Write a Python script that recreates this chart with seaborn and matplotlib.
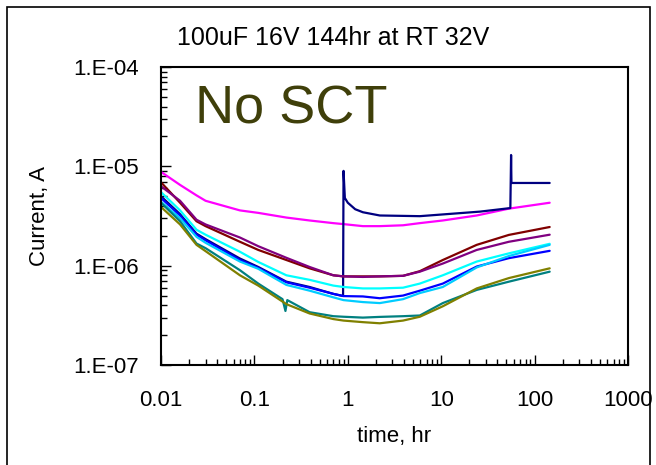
import numpy as np
import pandas as pd
import matplotlib
matplotlib.use('Agg')
import matplotlib.pyplot as plt
from matplotlib.patches import Rectangle
from matplotlib.ticker import LogLocator, NullFormatter
import seaborn as sns

# common time grid (hr) for most of the parts
t = [0.01, 0.016, 0.024, 0.03, 0.07, 0.11, 0.22, 0.39, 0.7, 0.9,
     1.45, 2.2, 3.9, 5.9, 10.4, 24, 53, 145]

magenta = [8.8e-6, 6.5e-6, 5.1e-6, 4.5e-6, 3.6e-6, 3.4e-6, 3.05e-6, 2.85e-6, 2.68e-6, 2.62e-6,
           2.5e-6, 2.5e-6, 2.55e-6, 2.68e-6, 2.85e-6, 3.2e-6, 3.75e-6, 4.3e-6]
maroon = [6.9e-6, 4.3e-6, 2.8e-6, 2.5e-6, 1.74e-6, 1.44e-6, 1.14e-6, 9.4e-7, 8.0e-7, 7.8e-7,
          7.8e-7, 7.8e-7, 7.9e-7, 8.8e-7, 1.14e-6, 1.62e-6, 2.04e-6, 2.45e-6]
purple = [6.3e-6, 4.5e-6, 2.9e-6, 2.6e-6, 1.92e-6, 1.57e-6, 1.2e-6, 9.7e-7, 8.0e-7, 7.8e-7,
          7.7e-7, 7.8e-7, 7.9e-7, 8.7e-7, 1.05e-6, 1.44e-6, 1.74e-6, 2.05e-6]
cyan = [5.5e-6, 3.6e-6, 2.3e-6, 2.05e-6, 1.38e-6, 1.09e-6, 8.0e-7, 7.2e-7, 6.3e-7, 6.1e-7,
        5.9e-7, 5.9e-7, 6.0e-7, 6.6e-7, 8.0e-7, 1.1e-6, 1.33e-6, 1.66e-6]
blue = [4.8e-6, 3.2e-6, 2.05e-6, 1.8e-6, 1.14e-6, 9.5e-7, 6.8e-7, 6.0e-7, 5.2e-7, 4.94e-7,
        4.9e-7, 4.7e-7, 5.0e-7, 5.6e-7, 6.6e-7, 9.8e-7, 1.19e-6, 1.41e-6]
skyblue = [4.4e-6, 3.0e-6, 1.95e-6, 1.7e-6, 1.1e-6, 9.3e-7, 6.4e-7, 5.6e-7, 4.8e-7, 4.5e-7,
           4.3e-7, 4.2e-7, 4.6e-7, 5.3e-7, 6.1e-7, 9.6e-7, 1.25e-6, 1.62e-6]
olive = [3.9e-6, 2.6e-6, 1.62e-6, 1.4e-6, 8.0e-7, 6.3e-7, 4.1e-7, 3.3e-7, 2.9e-7, 2.8e-7,
         2.7e-7, 2.63e-7, 2.8e-7, 3.06e-7, 3.9e-7, 5.9e-7, 7.5e-7, 9.4e-7]

# parts with their own time stamps (spikes / glitches)
t_navy = [0.01, 0.016, 0.024, 0.03, 0.07, 0.11, 0.22, 0.39, 0.7, 0.89, 0.9, 0.93,
          1.0, 1.2, 1.45, 2.2, 5.9, 26, 55, 56, 56.5, 145]
navy = [5.0e-6, 3.3e-6, 2.1e-6, 1.85e-6, 1.18e-6, 9.7e-7, 6.9e-7, 6.1e-7, 5.2e-7, 4.95e-7, 9.0e-6, 4.8e-6,
        4.3e-6, 3.7e-6, 3.45e-6, 3.2e-6, 3.15e-6, 3.5e-6, 3.8e-6, 1.3e-5, 6.8e-6, 6.8e-6]
t_teal = [0.01, 0.016, 0.024, 0.03, 0.07, 0.11, 0.2, 0.215, 0.225, 0.39, 0.7, 0.9,
          1.45, 2.2, 3.9, 5.9, 10.4, 24, 53, 145]
teal = [4.3e-6, 2.8e-6, 1.67e-6, 1.5e-6, 9.0e-7, 6.6e-7, 4.6e-7, 3.5e-7, 4.5e-7, 3.4e-7, 3.1e-7, 3.06e-7,
        3.0e-7, 3.05e-7, 3.1e-7, 3.15e-7, 4.2e-7, 5.7e-7, 6.9e-7, 8.7e-7]

series = {
    'magenta': (t, magenta), 'navy': (t_navy, navy), 'maroon': (t, maroon),
    'purple': (t, purple), 'cyan': (t, cyan), 'blue': (t, blue),
    'skyblue': (t, skyblue), 'teal': (t_teal, teal), 'olive': (t, olive),
}
colors = {'magenta': '#FF00FF', 'navy': '#000080', 'maroon': '#800000',
          'purple': '#800080', 'cyan': '#00FFFF', 'blue': '#0000FF',
          'skyblue': '#00CCFF', 'teal': '#008080', 'olive': '#808000'}

rows = []
for name, (tt, vals) in series.items():
    for x, y in zip(tt, vals):
        rows.append((name, x, y))
df = pd.DataFrame(rows, columns=['part', 'time', 'current'])

sns.set_style('ticks')
plt.rcParams['font.family'] = ['Liberation Sans', 'DejaVu Sans']

fig = plt.figure(figsize=(6.56, 4.65), dpi=100)
ax = fig.add_axes([161/656, 1-365/465, (628-161)/656, (365-67)/465])

sns.lineplot(data=df, x='time', y='current', hue='part', palette=colors,
             estimator=None, sort=False, legend=False, linewidth=1.6, ax=ax)

ax.set_xscale('log')
ax.set_yscale('log')
ax.set_xlim(0.01, 1000)
ax.set_ylim(1e-7, 1e-4)

ax.set_xticks([0.01, 0.1, 1, 10, 100, 1000])
ax.set_xticklabels(['0.01', '0.1', '1', '10', '100', '1000'])
ax.set_yticks([1e-7, 1e-6, 1e-5, 1e-4])
ax.set_yticklabels(['1.E-07', '1.E-06', '1.E-05', '1.E-04'])
ax.xaxis.set_minor_locator(LogLocator(base=10, subs=np.arange(2, 10)))
ax.yaxis.set_minor_locator(LogLocator(base=10, subs=np.arange(2, 10)))
ax.xaxis.set_minor_formatter(NullFormatter())
ax.yaxis.set_minor_formatter(NullFormatter())
ax.tick_params(which='both', direction='in', bottom=True, left=True,
               top=False, right=False, color='black')
ax.tick_params(which='major', length=7, width=1, labelsize=16, labelcolor='black')
ax.tick_params(which='minor', length=4, width=1)
ax.tick_params(axis='x', which='major', pad=18)
ax.tick_params(axis='y', which='major', pad=16)
for s in ax.spines.values():
    s.set_color('black')
    s.set_linewidth(1.5)

ax.set_xlabel('time, hr', fontsize=16, labelpad=11, color='black')
ax.set_ylabel('Current, A', fontsize=16, color='black')
ax.yaxis.set_label_coords(-0.237, 0.5)

fig.text(0.508, 1-38/465, '100uF 16V 144hr at RT 32V', fontsize=18,
         ha='center', va='center', color='black')
fig.text(195/656, (465-123)/465, 'No SCT', fontsize=39, color='#3F3F0A',
         ha='left', va='baseline')

fig.patches.append(Rectangle((7/656, -0.05), (650-7)/656, 1.05-7/465,
                             transform=fig.transFigure, fill=False,
                             edgecolor='black', linewidth=1.2))

fig.savefig('out.png', dpi=100)
